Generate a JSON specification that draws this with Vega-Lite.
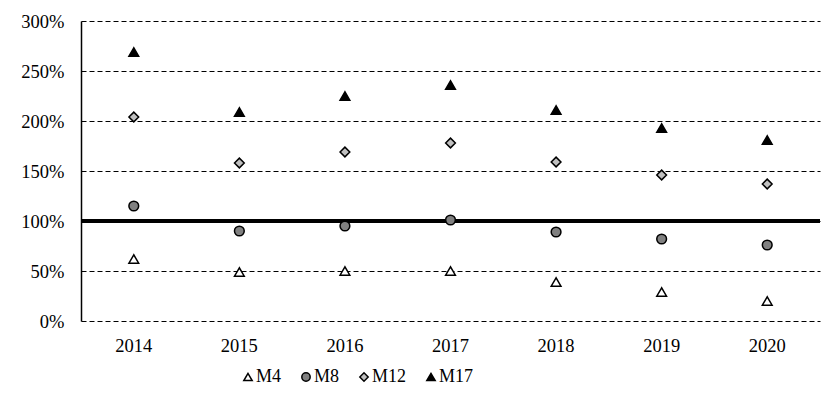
{
  "$schema": "https://vega.github.io/schema/vega-lite/v6.json",
  "width": 739,
  "height": 300,
  "autosize": {"type": "none"},
  "padding": {"left": 81, "top": 21, "right": 17, "bottom": 90},
  "background": "white",
  "config": {
    "view": {"stroke": null},
    "font": "Liberation Serif",
    "axis": {"labelFont": "Liberation Serif", "labelFontSize": 18.5, "labelColor": "#000"},
    "legend": {
      "orient": "none", "legendX": 158, "legendY": 347, "direction": "horizontal", "title": null,
      "labelFont": "Liberation Serif", "labelFontSize": 18, "labelColor": "#000",
      "symbolSize": 70, "symbolStrokeWidth": 1.5, "labelOffset": -1, "columnPadding": 15
    }
  },
  "data": {
    "values": [
      {"year": "2014", "series": "M4", "value": 62},
      {"year": "2015", "series": "M4", "value": 49},
      {"year": "2016", "series": "M4", "value": 50},
      {"year": "2017", "series": "M4", "value": 50},
      {"year": "2018", "series": "M4", "value": 39},
      {"year": "2019", "series": "M4", "value": 29},
      {"year": "2020", "series": "M4", "value": 20},
      {"year": "2014", "series": "M8", "value": 115},
      {"year": "2015", "series": "M8", "value": 90},
      {"year": "2016", "series": "M8", "value": 95},
      {"year": "2017", "series": "M8", "value": 101},
      {"year": "2018", "series": "M8", "value": 89},
      {"year": "2019", "series": "M8", "value": 82},
      {"year": "2020", "series": "M8", "value": 76},
      {"year": "2014", "series": "M12", "value": 204},
      {"year": "2015", "series": "M12", "value": 158},
      {"year": "2016", "series": "M12", "value": 169},
      {"year": "2017", "series": "M12", "value": 178},
      {"year": "2018", "series": "M12", "value": 159},
      {"year": "2019", "series": "M12", "value": 146},
      {"year": "2020", "series": "M12", "value": 137},
      {"year": "2014", "series": "M17", "value": 269},
      {"year": "2015", "series": "M17", "value": 209},
      {"year": "2016", "series": "M17", "value": 225},
      {"year": "2017", "series": "M17", "value": 236},
      {"year": "2018", "series": "M17", "value": 211},
      {"year": "2019", "series": "M17", "value": 193},
      {"year": "2020", "series": "M17", "value": 181}
    ]
  },
  "layer": [
    {
      "mark": {"type": "rule", "color": "black", "strokeWidth": 3},
      "encoding": {"y": {"datum": 100, "type": "quantitative", "scale": {"domain": [0, 300]}}}
    },
    {
      "mark": {"type": "point", "filled": false, "strokeWidth": 1.5, "opacity": 1, "size": 95},
      "encoding": {
        "x": {
          "field": "year", "type": "ordinal", "title": null,
          "scale": {"type": "band", "paddingInner": 0, "paddingOuter": 0},
          "axis": {"domain": false, "ticks": false, "labelAngle": 0, "labelPadding": 15}
        },
        "y": {
          "field": "value", "type": "quantitative", "title": null,
          "scale": {"domain": [0, 300], "nice": false, "zero": true},
          "axis": {
            "values": [0, 50, 100, 150, 200, 250, 300],
            "labelExpr": "datum.value + '%'",
            "ticks": false, "labelPadding": 17,
            "domain": true, "domainColor": "black", "domainWidth": 1.5,
            "grid": true, "gridColor": "#000", "gridDash": [5, 3], "gridWidth": 1, "gridOpacity": 1
          }
        },
        "shape": {
          "field": "series", "type": "nominal", "sort": ["M4", "M8", "M12", "M17"],
          "scale": {"domain": ["M4", "M8", "M12", "M17"], "range": ["triangle-up", "circle", "diamond", "triangle-up"]}
        },
        "fill": {
          "field": "series", "type": "nominal", "sort": ["M4", "M8", "M12", "M17"],
          "scale": {"domain": ["M4", "M8", "M12", "M17"], "range": ["#ffffff", "#808080", "#c0c0c0", "#000000"]}
        },
        "stroke": {
          "field": "series", "type": "nominal", "sort": ["M4", "M8", "M12", "M17"],
          "scale": {"domain": ["M4", "M8", "M12", "M17"], "range": ["#000000", "#000000", "#000000", "#000000"]}
        }
      }
    }
  ]
}
